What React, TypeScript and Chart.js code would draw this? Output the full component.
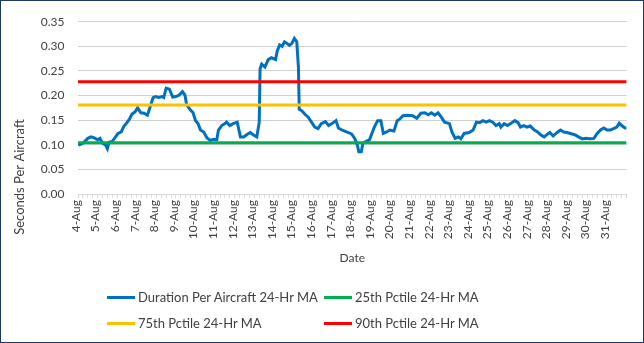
import React, { useEffect, useRef } from "react";
import { Chart, registerables } from "chart.js";

Chart.register(...registerables);

const dateLabels = [
  "4-Aug", "5-Aug", "6-Aug", "7-Aug", "8-Aug", "9-Aug", "10-Aug", "11-Aug", "12-Aug", "13-Aug",
  "14-Aug", "15-Aug", "16-Aug", "17-Aug", "18-Aug", "19-Aug", "20-Aug", "21-Aug", "22-Aug", "23-Aug",
  "24-Aug", "25-Aug", "26-Aug", "27-Aug", "28-Aug", "29-Aug", "30-Aug", "31-Aug",
];

// hours since 4-Aug 00:00
const hours = [
  0, 2, 6, 12, 16, 20, 24, 27, 30, 34, 36, 38, 42, 46, 49, 53, 56, 59, 63, 66, 70, 73, 77, 81, 85, 88,
  92, 95, 99, 103, 105, 108, 112, 116, 120, 124, 128, 131, 133, 137, 141, 144, 147, 150, 154, 158, 162,
  166, 170, 172, 176, 180, 182, 186, 190, 195, 199, 203, 207, 211, 215, 219, 222, 223, 225, 229, 233,
  237, 242, 244, 247, 250, 253, 256, 259, 262, 265, 268, 270, 271, 274, 278, 282, 286, 290, 294, 298,
  303, 307, 311, 316, 319, 323, 329, 335, 339, 342, 344, 347, 349, 353, 357, 360, 363, 367, 371, 374,
  378, 382, 387, 391, 394, 398, 404, 410, 415, 420, 425, 429, 433, 437, 441, 445, 449, 455, 458, 462,
  466, 469, 473, 479, 484, 488, 492, 496, 500, 504, 508, 512, 516, 518, 522, 526, 530, 535, 539, 542,
  546, 550, 554, 559, 563, 567, 571, 574, 578, 582, 587, 591, 595, 599, 603, 609, 613, 618, 622, 627,
  632, 636, 640, 644, 648, 652, 656, 660, 663, 666, 670, 672,
];

const durationPerAircraft = [
  0.103, 0.100, 0.103, 0.113, 0.116, 0.114, 0.110, 0.113, 0.103, 0.099, 0.092, 0.105, 0.107, 0.116,
  0.123, 0.126, 0.137, 0.143, 0.152, 0.162, 0.167, 0.175, 0.165, 0.164, 0.160, 0.175, 0.196, 0.198,
  0.196, 0.198, 0.196, 0.215, 0.213, 0.197, 0.198, 0.201, 0.208, 0.201, 0.182, 0.172, 0.165, 0.149,
  0.143, 0.130, 0.126, 0.114, 0.109, 0.111, 0.110, 0.130, 0.139, 0.143, 0.146, 0.139, 0.143, 0.146,
  0.116, 0.116, 0.121, 0.125, 0.120, 0.116, 0.146, 0.254, 0.264, 0.258, 0.273, 0.277, 0.273, 0.290,
  0.303, 0.300, 0.309, 0.306, 0.302, 0.306, 0.316, 0.309, 0.257, 0.172, 0.169, 0.162, 0.156, 0.146,
  0.136, 0.133, 0.143, 0.147, 0.139, 0.143, 0.149, 0.134, 0.130, 0.126, 0.122, 0.113, 0.100, 0.086,
  0.086, 0.103, 0.107, 0.110, 0.123, 0.136, 0.149, 0.149, 0.123, 0.126, 0.130, 0.128, 0.149, 0.152,
  0.159, 0.160, 0.159, 0.154, 0.164, 0.165, 0.161, 0.165, 0.160, 0.165, 0.156, 0.146, 0.143, 0.126,
  0.113, 0.116, 0.112, 0.123, 0.125, 0.130, 0.146, 0.145, 0.149, 0.146, 0.149, 0.146, 0.139, 0.143,
  0.136, 0.143, 0.139, 0.143, 0.149, 0.145, 0.136, 0.139, 0.136, 0.138, 0.130, 0.126, 0.120, 0.116,
  0.120, 0.125, 0.118, 0.125, 0.130, 0.126, 0.125, 0.123, 0.120, 0.116, 0.112, 0.113, 0.112, 0.113,
  0.123, 0.130, 0.134, 0.130, 0.130, 0.133, 0.136, 0.144, 0.139, 0.134, 0.134,
];

const pctile25 = 0.104;
const pctile75 = 0.181;
const pctile90 = 0.228;

const seriesNames = [
  "Duration Per Aircraft 24-Hr MA",
  "25th Pctile 24-Hr MA",
  "75th Pctile 24-Hr MA",
  "90th Pctile 24-Hr MA",
];
const seriesColors = ["#0070C0", "#00B050", "#FFC000", "#FF0000"];

const yTicks = [0, 0.05, 0.1, 0.15, 0.2, 0.25, 0.3, 0.35];

const FONT = "Lato, 'Open Sans', sans-serif";
const TEXT = "#404040";
const W = 642;
const H = 341;

export default function App() {
  const ref = useRef<HTMLCanvasElement | null>(null);

  useEffect(() => {
    const canvas = ref.current;
    if (!canvas) return;
    const totalHours = dateLabels.length * 24;
    const flat = (v: number) => [
      { x: 0, y: v },
      { x: totalHours, y: v },
    ];

    const yTitlePlugin = {
      id: "yTitle",
      afterDraw(chart: any) {
        const ctx = chart.ctx;
        ctx.save();
        ctx.translate(19, 176);
        ctx.rotate(-Math.PI / 2);
        ctx.font = `13px ${FONT}`;
        ctx.fillStyle = TEXT;
        ctx.textAlign = "center";
        ctx.textBaseline = "middle";
        ctx.fillText("Seconds Per Aircraft", 0, 0);
        ctx.restore();
      },
    };

    const chart = new Chart(canvas, {
      type: "line",
      data: {
        datasets: [
          {
            label: seriesNames[0],
            data: hours.map((h, i) => ({ x: h, y: durationPerAircraft[i] })),
            borderColor: seriesColors[0],
            backgroundColor: seriesColors[0],
            borderWidth: 3,
            pointRadius: 0,
            tension: 0,
            order: 1,
          },
          {
            label: seriesNames[1],
            data: flat(pctile25),
            borderColor: seriesColors[1],
            backgroundColor: seriesColors[1],
            borderWidth: 3,
            pointRadius: 0,
            order: 0,
          },
          {
            label: seriesNames[2],
            data: flat(pctile75),
            borderColor: seriesColors[2],
            backgroundColor: seriesColors[2],
            borderWidth: 3,
            pointRadius: 0,
            order: 0,
          },
          {
            label: seriesNames[3],
            data: flat(pctile90),
            borderColor: seriesColors[3],
            backgroundColor: seriesColors[3],
            borderWidth: 3,
            pointRadius: 0,
            order: 0,
          },
        ],
      },
      options: {
        responsive: false,
        maintainAspectRatio: false,
        animation: false,
        devicePixelRatio: 1,
        layout: {
          autoPadding: false,
          padding: { top: 15, right: 14.5, bottom: 76.8, left: 0 },
        },
        plugins: {
          legend: { display: false },
          tooltip: { enabled: false },
        },
        scales: {
          x: {
            type: "linear",
            min: 0,
            max: totalHours,
            afterFit(scale: any) {
              scale.height = H - 76.8 - 193;
            },
            afterBuildTicks(scale: any) {
              const t = [];
              for (let h = 0; h <= totalHours; h += 6) t.push({ value: h });
              scale.ticks = t;
            },
            grid: {
              drawOnChartArea: false,
              drawTicks: true,
              tickLength: 4,
              color: "#D9D9D9",
            },
            border: { display: true, color: "#D9D9D9", width: 1 },
            ticks: {
              autoSkip: false,
              maxRotation: 90,
              minRotation: 90,
              padding: 2,
              labelOffset: -2,
              color: TEXT,
              font: { family: FONT, size: 12 },
              callback: (v: any) => {
                const n = Number(v);
                if (n % 24 !== 0) return "";
                return dateLabels[n / 24] ?? "";
              },
            },
            title: {
              display: true,
              text: "Date",
              color: TEXT,
              font: { family: FONT, size: 12 },
              padding: 0,
            },
          },
          y: {
            min: 0,
            max: 0.35,
            afterFit(scale: any) {
              scale.width = 77;
            },
            afterBuildTicks(scale: any) {
              scale.ticks = yTicks.map((v) => ({ value: v }));
            },
            grid: {
              drawTicks: false,
              color: "#D0D0D0",
              lineWidth: 1,
            },
            border: { display: false },
            ticks: {
              padding: 13.5,
              color: TEXT,
              font: { family: FONT, size: 12 },
              callback: (v: any) => Number(v).toFixed(2),
            },
          },
        },
      },
      plugins: [yTitlePlugin],
    });
    return () => chart.destroy();
  }, []);

  const legendItems = [
    { i: 0, x: 107, y: 297 },
    { i: 1, x: 324, y: 297 },
    { i: 2, x: 107, y: 323 },
    { i: 3, x: 324, y: 323 },
  ];

  return (
    <div
      style={{
        position: "fixed",
        left: 0,
        top: 0,
        width: 644,
        height: 343,
        boxSizing: "border-box",
        border: "1px solid #1F3864",
        background: "#fff",
      }}
    >
      <canvas
        ref={ref}
        width={W}
        height={H}
        style={{ position: "absolute", left: 0, top: 0, width: W, height: H }}
      />
      {legendItems.map((it) => (
        <div
          key={it.i}
          style={{
            position: "absolute",
            left: it.x - 1,
            top: it.y - 1 - 9,
            height: 18,
            display: "flex",
            alignItems: "center",
            whiteSpace: "nowrap",
            fontFamily: FONT,
            fontSize: 13,
            color: TEXT,
          }}
        >
          <span
            style={{
              display: "inline-block",
              width: 28,
              height: 3,
              background: seriesColors[it.i],
              marginRight: 3,
            }}
          />
          <span>{seriesNames[it.i]}</span>
        </div>
      ))}
    </div>
  );
}
